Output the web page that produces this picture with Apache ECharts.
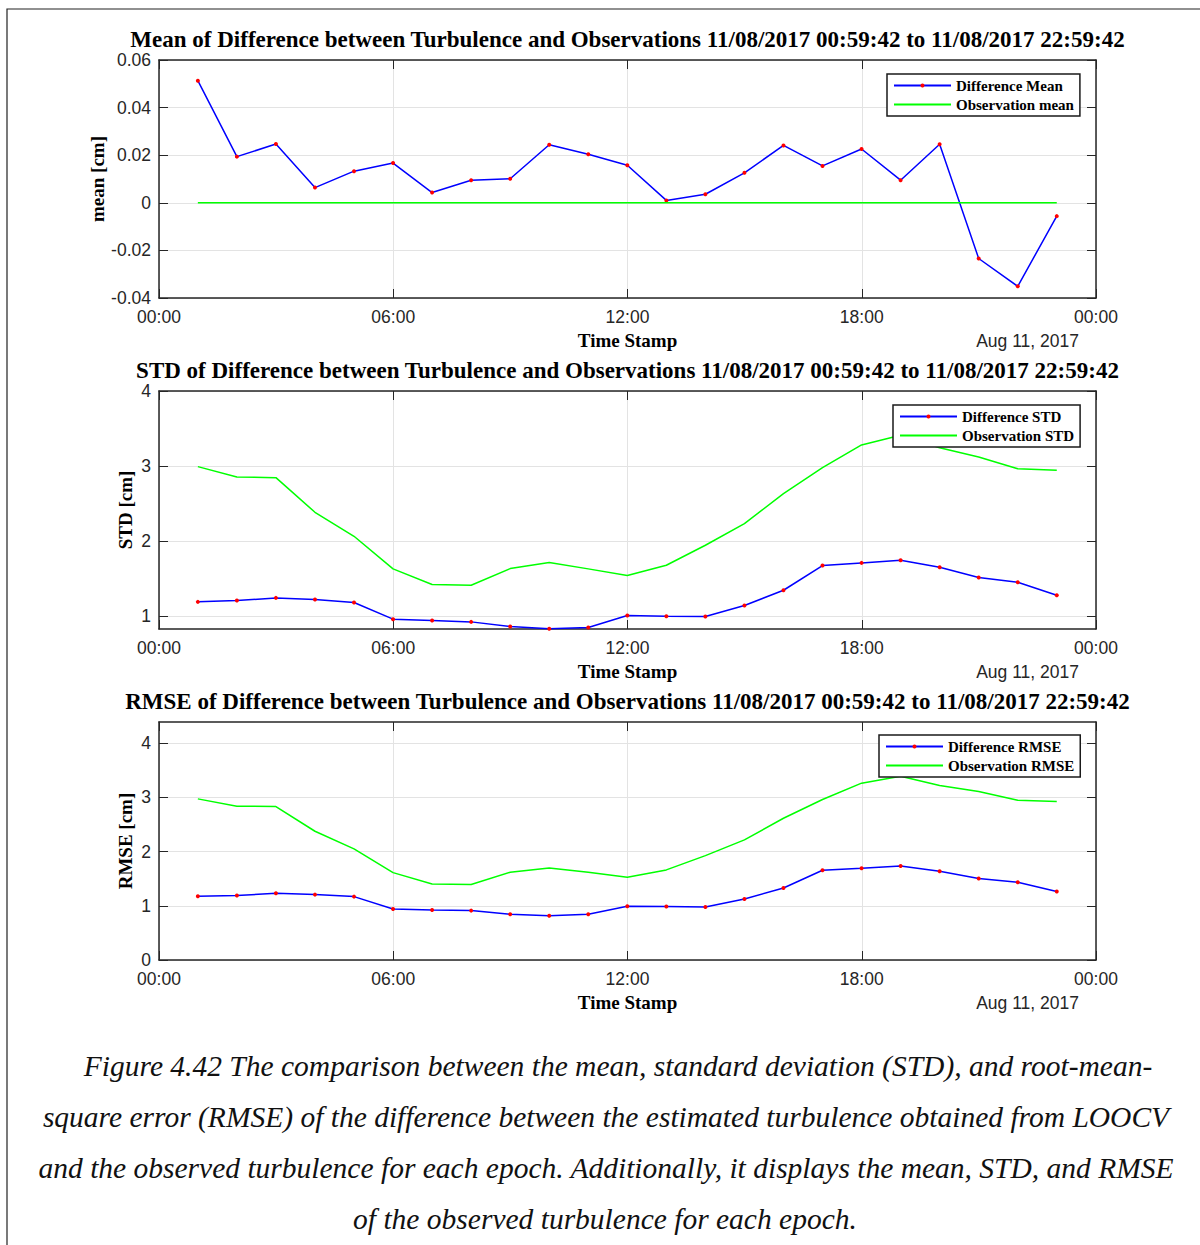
<!DOCTYPE html>
<html>
<head>
<meta charset="utf-8">
<script src="https://cdn.jsdelivr.net/npm/echarts@6/dist/echarts.min.js"></script>
<style>
  html, body { margin: 0; padding: 0; background: #fff; }
  #chart { width: 1200px; height: 1245px; }
</style>
</head>
<body>
<div id="chart"></div>
<script>
// Epoch time stamps (11/08/2017), one per hour
const times = ['00:59:42','01:59:42','02:59:42','03:59:42','04:59:42','05:59:42','06:59:42','07:59:42',
  '08:59:42','09:59:42','10:59:42','11:59:42','12:59:42','13:59:42','14:59:42','15:59:42',
  '16:59:42','17:59:42','18:59:42','19:59:42','20:59:42','21:59:42','22:59:42'];

// Mean [cm]
const diffMean = [0.0513,0.0194,0.0247,0.0064,0.0133,0.0167,0.0043,0.0095,0.0101,0.0244,0.0204,0.0158,
  0.0010,0.0036,0.0126,0.0241,0.0155,0.0226,0.0095,0.0246,-0.0234,-0.0351,-0.0056];
const obsMean = [0,0,0,0,0,0,0,0,0,0,0,0,0,0,0,0,0,0,0,0,0,0,0];

// STD [cm]
const diffStd = [1.187,1.204,1.240,1.218,1.178,0.956,0.938,0.920,0.858,0.827,0.844,1.004,
  0.996,0.991,1.138,1.342,1.671,1.707,1.742,1.649,1.511,1.449,1.276];
const obsStd = [2.991,2.853,2.844,2.382,2.062,1.627,1.418,1.409,1.631,1.711,1.627,1.538,
  1.676,1.942,2.231,2.631,2.978,3.280,3.410,3.244,3.120,2.964,2.942];

// RMSE [cm]
const diffRmse = [1.175,1.188,1.231,1.206,1.169,0.942,0.923,0.911,0.843,0.818,0.843,0.991,
  0.985,0.978,1.126,1.329,1.655,1.692,1.735,1.637,1.502,1.434,1.262];
const obsRmse = [2.972,2.837,2.831,2.375,2.049,1.612,1.403,1.391,1.618,1.698,1.618,1.526,
  1.662,1.926,2.215,2.615,2.960,3.262,3.390,3.218,3.108,2.948,2.923];

// Axis tick values
const meanTicks = [-0.04, -0.02, 0, 0.02, 0.04, 0.06];
const stdTicks = [1, 2, 3, 4];
const rmseTicks = [0, 1, 2, 3, 4];

const titles = [
  'Mean of Difference between Turbulence and Observations 11/08/2017 00:59:42 to 11/08/2017 22:59:42',
  'STD of Difference between Turbulence and Observations 11/08/2017 00:59:42 to 11/08/2017 22:59:42',
  'RMSE of Difference between Turbulence and Observations 11/08/2017 00:59:42 to 11/08/2017 22:59:42'
];
const captionLines = [
  'Figure 4.42 The comparison between the mean, standard deviation (STD), and root-mean-',
  'square error (RMSE) of the difference between the estimated turbulence obtained from LOOCV',
  'and the observed turbulence for each epoch. Additionally, it displays the mean, STD, and RMSE',
  'of the observed turbulence for each epoch.'
];
const captionCenters = [618, 606, 606, 605];

function toHours(t) {
  const p = t.split(':').map(Number);
  return p[0] + p[1] / 60 + p[2] / 3600;
}
const hours = times.map(toHours);
const pairs = arr => arr.map((v, i) => [hours[i], v]);

const AX = '#262626';
const SANS = '"Liberation Sans", Arial, sans-serif';
const SERIF = '"Liberation Serif", "Times New Roman", serif';

const panels = [
  { top: 60, min: -0.04, max: 0.06, ticks: meanTicks, name: 'mean [cm]', nameGap: 52,
    fmt: v => (Math.abs(v) < 1e-9 ? '0' : v.toFixed(2)),
    diff: diffMean, obs: obsMean, diffName: 'Difference Mean', obsName: 'Observation mean',
    legend: { left: 887, top: 74 } },
  { top: 391, min: 0.825, max: 4, ticks: stdTicks, name: 'STD [cm]', nameGap: 24,
    fmt: v => String(Math.round(v)),
    diff: diffStd, obs: obsStd, diffName: 'Difference STD', obsName: 'Observation STD',
    legend: { left: 893, top: 405 } },
  { top: 722, min: 0, max: 4.39, ticks: rmseTicks, name: 'RMSE [cm]', nameGap: 24,
    fmt: v => String(Math.round(v)),
    diff: diffRmse, obs: obsRmse, diffName: 'Difference RMSE', obsName: 'Observation RMSE',
    legend: { left: 879, top: 735 } }
];

const GRID_LEFT = 159, GRID_W = 937, GRID_H = 238;
const option = {
  animation: false,
  backgroundColor: '#fff',
  grid: [], xAxis: [], yAxis: [], series: [], legend: [], graphic: []
};

const hourFmt = v => String(Math.round(v) % 24).padStart(2, '0') + ':00';

panels.forEach((p, i) => {
  option.grid.push({ left: GRID_LEFT, top: p.top, width: GRID_W, height: GRID_H, containLabel: false });

  // bottom time axis
  option.xAxis.push({
    type: 'value', gridIndex: i, position: 'bottom', min: 0, max: 24, interval: 6,
    name: 'Time Stamp', nameLocation: 'middle', nameGap: 33,
    nameTextStyle: { fontFamily: SERIF, fontWeight: 'bold', fontSize: 19, color: '#000' },
    axisLine: { onZero: false, lineStyle: { color: AX, width: 1.5 } },
    axisTick: { inside: true, length: 9, lineStyle: { color: AX, width: 1 } },
    axisLabel: { formatter: hourFmt, fontFamily: SANS, fontSize: 17.5, color: AX, margin: 10 },
    splitLine: { show: true, lineStyle: { color: '#e3e3e3', width: 1 } }
  });
  // top mirror axis (box)
  option.xAxis.push({
    type: 'value', gridIndex: i, position: 'top', min: 0, max: 24, interval: 6,
    axisLine: { onZero: false, lineStyle: { color: AX, width: 1.5 } },
    axisTick: { inside: true, length: 9, lineStyle: { color: AX, width: 1 } },
    axisLabel: { show: false }, splitLine: { show: false }
  });

  const yBase = {
    type: 'value', gridIndex: i, min: p.min, max: p.max,
    axisTick: { inside: true, length: 9, customValues: p.ticks, lineStyle: { color: AX, width: 1 } }
  };
  option.yAxis.push(Object.assign({}, yBase, {
    position: 'left',
    name: p.name, nameLocation: 'middle', nameGap: p.nameGap, nameRotate: 90, nameMoveOverlap: false,
    nameTextStyle: { fontFamily: SERIF, fontWeight: 'bold', fontSize: 19, color: '#000' },
    axisLine: { show: true, onZero: false, lineStyle: { color: AX, width: 1.5 } },
    axisLabel: { customValues: p.ticks, formatter: p.fmt, fontFamily: SANS, fontSize: 17.5,
      lineHeight: 14, color: AX, margin: 8 },
    splitLine: { show: true, lineStyle: { color: '#e3e3e3', width: 1 } }
  }));
  option.yAxis.push(Object.assign({}, yBase, {
    position: 'right',
    axisLine: { show: true, onZero: false, lineStyle: { color: AX, width: 1.5 } },
    axisLabel: { show: false }, splitLine: { show: false }
  }));

  option.series.push({
    type: 'line', name: p.diffName, xAxisIndex: 2 * i, yAxisIndex: 2 * i,
    data: pairs(p.diff), symbol: 'circle', symbolSize: 4, showSymbol: true,
    itemStyle: { color: '#ff0000' },
    lineStyle: { color: '#0000ff', width: 1.5 },
    emphasis: { disabled: true }, z: 3
  });
  option.series.push({
    type: 'line', name: p.obsName, xAxisIndex: 2 * i, yAxisIndex: 2 * i,
    data: pairs(p.obs), symbol: 'none',
    itemStyle: { color: '#00ff00' },
    lineStyle: { color: '#00ff00', width: 1.5 },
    emphasis: { disabled: true }, z: 4
  });

  option.legend.push({
    data: [p.diffName, { name: p.obsName, itemStyle: { opacity: 0 } }],
    orient: 'vertical',
    left: p.legend.left, top: p.legend.top, padding: [4, 6, 4, 6],
    itemWidth: 57, itemHeight: 5, itemGap: 4, selectedMode: false,
    backgroundColor: '#fff', borderColor: '#1a1a1a', borderWidth: 1.5, z: 10,
    textStyle: { fontFamily: SERIF, fontWeight: 'bold', fontSize: 15, color: '#000' }
  });

  // panel title and date stamp
  option.graphic.push({
    type: 'text', x: GRID_LEFT + GRID_W / 2, y: p.top - 21, z: 20,
    style: { text: titles[i], font: 'bold 23px ' + SERIF, fill: '#000', lineHeight: 19,
      textAlign: 'center', align: 'center', textVerticalAlign: 'middle', verticalAlign: 'middle' }
  });
  option.graphic.push({
    type: 'text', x: 1079, y: p.top + GRID_H + 43, z: 20,
    style: { text: 'Aug 11, 2017', font: '17.5px ' + SANS, fill: AX,
      textAlign: 'right', align: 'right', textVerticalAlign: 'middle', verticalAlign: 'middle' }
  });
});

// figure frame
option.graphic.push({
  type: 'rect', shape: { x: 7, y: 9, width: 1300, height: 1300 }, z: 0, silent: true,
  style: { fill: 'none', stroke: '#222', lineWidth: 1.2 }
});

// caption
captionLines.forEach((line, k) => {
  option.graphic.push({
    type: 'text', x: captionCenters[k], y: 1066 + k * 51, z: 20,
    style: { text: line, font: 'italic 29.5px ' + SERIF, fill: '#111',
      textAlign: 'center', align: 'center', textVerticalAlign: 'middle', verticalAlign: 'middle' }
  });
});

const chart = echarts.init(document.getElementById('chart'), null, { renderer: 'svg', width: 1200, height: 1245 });
chart.setOption(option);
</script>
</body>
</html>
